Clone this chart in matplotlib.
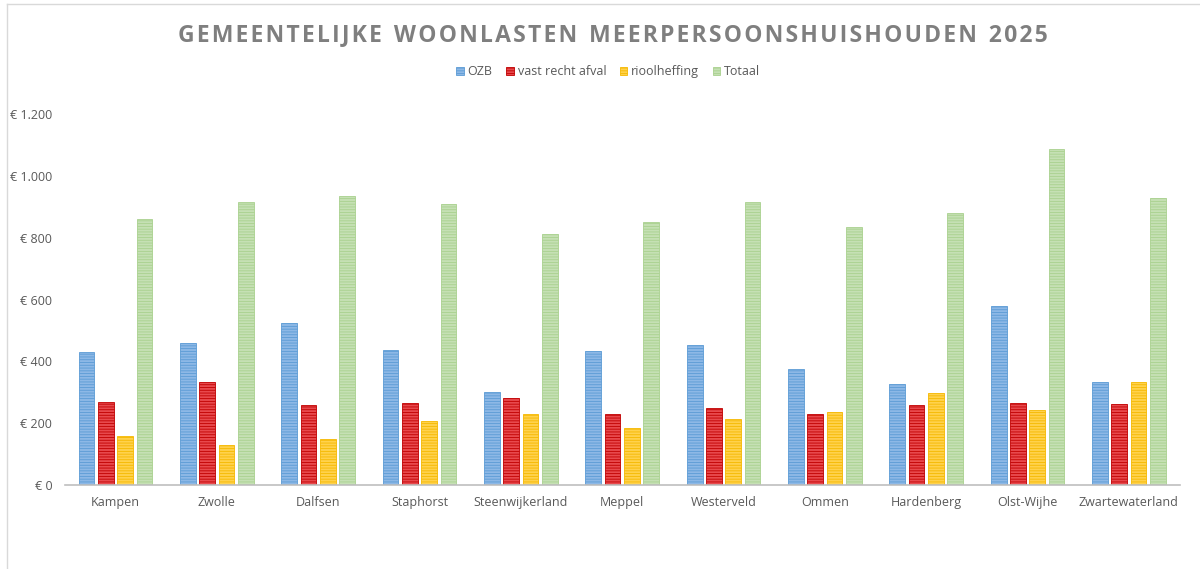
import matplotlib.pyplot as plt
import numpy as np
from matplotlib.lines import Line2D
from matplotlib.ticker import FuncFormatter

gemeenten = ['Kampen', 'Zwolle', 'Dalfsen', 'Staphorst', 'Steenwijkerland', 'Meppel',
             'Westerveld', 'Ommen', 'Hardenberg', 'Olst-Wijhe', 'Zwartewaterland']
ozb = [430, 460, 523, 438, 302, 434, 453, 375, 327, 578, 334]
afval = [269, 332, 258, 264, 282, 229, 250, 229, 258, 264, 261]
riool = [158, 128, 148, 206, 229, 184, 213, 235, 297, 243, 334]
totaal = [860, 915, 934, 909, 812, 851, 915, 835, 881, 1086, 929]

series = [('OZB', ozb, '#8DB8E6', '#5B9BD5'),
          ('vast recht afval', afval, '#E8494D', '#C00000'),
          ('rioolheffing', riool, '#FFD24D', '#F5B800'),
          ('Totaal', totaal, '#C5E0B4', '#A9D18E')]

titel = 'GEMEENTELIJKE WOONLASTEN MEERPERSOONSHUISHOUDEN 2025'

plt.rcParams['font.family'] = ['Open Sans', 'DejaVu Sans']
plt.rcParams['hatch.linewidth'] = 0.6

fig = plt.figure(figsize=(12, 5.69), dpi=100)
ax = fig.add_axes([0.054, 0.1476, 0.929, 0.652])

x = np.arange(len(gemeenten))
step = 0.19
barWidth = 0.155

for i, (name, vals, fc, ec) in enumerate(series):
    ax.bar(x + (i - 1.5) * step, vals, width=barWidth, color=fc, edgecolor=ec,
           linewidth=0.6, hatch='------', label=name)

# decorate
ax.set_xlim(-0.5, len(gemeenten) - 0.5)
ax.set_ylim(0, 1200)
ax.set_yticks(range(0, 1201, 200))
ax.yaxis.set_major_formatter(FuncFormatter(lambda v, p: '€ ' + f'{int(v):,}'.replace(',', '.')))
ax.set_xticks(x)
ax.set_xticklabels(gemeenten)
ax.tick_params(axis='both', length=0, labelsize=9, labelcolor='#595959')
ax.tick_params(axis='x', pad=8)
ax.tick_params(axis='y', pad=9)
for s in ['top', 'right', 'left']:
    ax.spines[s].set_visible(False)
ax.spines['bottom'].set_color('#BFBFBF')
ax.spines['bottom'].set_linewidth(1.2)

# letter-spaced title
fig.text(0.511, 0.938, '\u200a'.join(titel).replace('\u200a \u200a', '  '),
         ha='center', va='center', fontsize=16.5, fontweight='bold', color='#7F7F7F',
         family=['Open Sans', 'DejaVu Sans'])

ax.legend(loc='center', bbox_to_anchor=(0.507, 0.874), bbox_transform=fig.transFigure,
          ncol=4, frameon=False, fontsize=9, handlelength=0.6, handleheight=0.6,
          handletextpad=0.3, columnspacing=1.1, labelcolor='#595959')

# chart border (left and top)
fig.add_artist(Line2D([7 / 1200, 7 / 1200], [0, 1 - 4 / 569], color='#D9D9D9', lw=1))
fig.add_artist(Line2D([7 / 1200, 1], [1 - 4 / 569, 1 - 4 / 569], color='#D9D9D9', lw=1))

fig.savefig('out.png', dpi=100)
